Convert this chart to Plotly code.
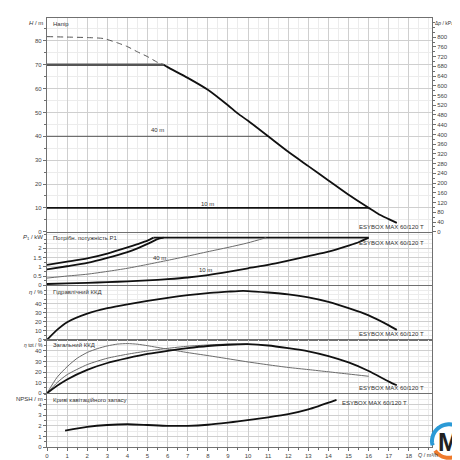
import plotly.graph_objects as go
import numpy as np

# ---------------- data ----------------
# Head panel (H / m)
q_dash = [0, 1, 2, 2.8, 3.5, 4, 4.5, 5, 5.5, 5.8]
h_dash = [81.8, 81.6, 81.4, 81.0, 79.2, 77.6, 75.4, 73.4, 71.0, 70.0]
q_70 = [0, 5.8]
h_70 = [70, 70]
q_main = [5.8, 6, 7, 8, 9, 9.5, 10, 11, 12, 13, 14, 15, 16, 16.5, 17, 17.4]
h_main = [70, 69, 64.5, 59.5, 53, 49.5, 46.5, 40, 33.5, 27.5, 21.5, 15.5, 10, 7.3, 5.3, 3.7]
q_40 = [0, 11]
h_40 = [40, 40]
q_10 = [0, 16]
h_10 = [10, 10]

# Power panel (P1 / kW)
q_p_max = [0, 1, 2, 3, 4, 4.5, 5, 5.3]
p_max = [1.11, 1.28, 1.46, 1.72, 2.05, 2.23, 2.42, 2.58]
q_p_70 = [0, 1, 2, 3, 4, 4.5, 5, 5.5, 5.8]
p_70 = [0.86, 1.03, 1.21, 1.48, 1.8, 2.0, 2.24, 2.5, 2.58]
q_p_flat = [5.3, 16]
p_flat = [2.58, 2.58]
q_p_40 = [0, 1, 2, 3, 4, 5, 6, 7, 8, 9, 10, 10.9]
p_40 = [0.39, 0.5, 0.6, 0.75, 0.92, 1.13, 1.35, 1.58, 1.82, 2.05, 2.3, 2.58]
q_p_10 = [0, 1, 2, 3, 4, 5, 6, 7, 8, 9, 10, 11, 12, 13, 14, 15, 15.5, 16]
p_10 = [0.07, 0.1, 0.13, 0.17, 0.21, 0.26, 0.33, 0.42, 0.55, 0.72, 0.92, 1.1, 1.33, 1.58, 1.82, 2.15, 2.33, 2.58]

# Hydraulic efficiency (eta / %)
q_eta = [0, 0.5, 1, 2, 3, 4, 5, 6, 7, 8, 9, 9.5, 10, 11, 12, 13, 14, 15, 16, 17, 17.4]
eta = [0, 11, 19.5, 29, 35, 39.3, 43, 46.5, 49.5, 51.8, 53.3, 54, 54, 52.4, 50.3, 47, 42, 35, 27, 16, 11]

# Total efficiency (eta tot / %)
q_et_a = [0, 0.5, 1, 1.5, 2, 2.5, 3, 3.5, 4, 4.5, 5, 6, 7, 8, 9, 9.5, 10, 11, 12, 13, 14, 15, 16]
et_a = [0, 15, 25, 33, 38.4, 42, 44.6, 46.3, 46.8, 46.2, 44.8, 41.5, 38.3, 35.5, 32.5, 31, 29.5, 26.8, 24.3, 22.3, 20.2, 18.1, 16]
q_et_b = [0, 0.5, 1, 2, 3, 4, 5, 6, 7, 8, 9, 10]
et_b = [0, 10, 17.5, 27, 33, 36.8, 39.8, 42.3, 44.3, 45.5, 46.3, 46.5]
q_et_c = [0, 0.5, 1, 2, 3, 4, 5, 6, 7, 8, 9, 10, 11, 12, 13, 14, 15, 16, 17, 17.4]
et_c = [0, 7, 13, 22, 28.5, 33, 37, 40, 42.5, 44.5, 45.7, 46.2, 45, 42.5, 39.5, 35, 29, 21, 11, 7.5]

# NPSH / m
q_npsh = [0.9, 2, 3, 4, 5, 6, 7, 8, 9, 9.5, 11, 12, 13, 14.4]
npsh = [1.55, 1.9, 2.08, 2.15, 2.08, 2.0, 2.0, 2.1, 2.3, 2.42, 2.8, 3.1, 3.55, 4.45]

x_ticks = list(range(0, 19))
h_ticks = [0, 10, 20, 30, 40, 50, 60, 70, 80]
kpa_ticks = list(range(0, 801, 40))
p_ticks = [0, 0.5, 1, 1.5, 2]
eta_ticks = [0, 10, 20, 30, 40]
npsh_ticks = [0, 1, 2, 3, 4]

model = "ESYBOX MAX 60/120 T"

# ---------------- figure ----------------
FONT = "Liberation Sans, Arial, sans-serif"
BLACK = "#111111"
GRAY = "#6a6a6a"

fig = go.Figure()

def line(x, y, ax, color=BLACK, width=1.8, dash="solid"):
    fig.add_trace(go.Scatter(x=x, y=y, mode="lines", xaxis=ax[0], yaxis=ax[1],
                             line=dict(color=color, width=width, dash=dash, shape="spline", smoothing=0.6),
                             hoverinfo="skip", showlegend=False))

a1 = ("x", "y")
a2 = ("x2", "y2")
a3 = ("x3", "y3")
a4 = ("x4", "y4")
a5 = ("x5", "y5")

line(q_dash, h_dash, a1, color="#555555", width=1, dash="6px,4px")
line(q_70, h_70, a1, color="#555555", width=2.6)
line(q_40, h_40, a1, color="#555555", width=1)
line(q_10, h_10, a1, color=BLACK, width=1.8)
line(q_main, h_main, a1, color=BLACK, width=1.8)

line(q_p_max, p_max, a2)
line(q_p_70, p_70, a2)
line(q_p_flat, p_flat, a2)
line(q_p_40, p_40, a2, color=GRAY, width=1)
line(q_p_10, p_10, a2)

line(q_eta, eta, a3)

line(q_et_a, et_a, a4, color=GRAY, width=1)
line(q_et_b, et_b, a4, color=GRAY, width=1)
line(q_et_c, et_c, a4)

line(q_npsh, npsh, a5)

# right kPa axis trace (invisible, sets axis)
fig.add_trace(go.Scatter(x=[0], y=[0], xaxis="x", yaxis="y6", mode="markers",
                         marker=dict(opacity=0), hoverinfo="skip", showlegend=False))

XR = [0, 19.15]
tickfont = dict(family=FONT, size=6, color="#444444")

def xax(anchor, show):
    d = dict(range=XR, anchor=anchor, domain=[0, 1], showgrid=True, gridcolor="#cfcfcf", gridwidth=1,
             tickvals=x_ticks, zeroline=False, showline=True, linecolor="#707070", linewidth=1, mirror=True,
             minor=dict(dtick=0.5, showgrid=True, gridcolor="#ececec", ticks=""),
             showticklabels=show, tickfont=tickfont, ticks="outside" if show else "", ticklen=3,
             tickcolor="#707070", fixedrange=True)
    if show:
        d["minor"] = dict(dtick=0.5, showgrid=True, gridcolor="#ececec", ticks="outside", ticklen=2,
                          tickcolor="#707070")
    return d

def yax(rng, dom, ticks, mdt, anchor):
    return dict(range=rng, domain=dom, anchor=anchor, showgrid=True, gridcolor="#cfcfcf",
                tickvals=ticks, zeroline=False, showline=True, linecolor="#707070", linewidth=1.2, mirror=True,
                ticks="outside", ticklen=3, tickcolor="#707070", tickfont=tickfont,
                minor=dict(dtick=mdt, showgrid=True, gridcolor="#ececec", ticks="outside", ticklen=2,
                           tickcolor="#707070"), fixedrange=True)

H_TOP = 89.6
y1 = yax([0, H_TOP], [0.5018, 1.0], h_ticks, 5, "x")
y2 = yax([0, 2.86], [0.377, 0.5], p_ticks, 0.25, "x2")
y3 = yax([0, 59.3], [0.2499, 0.3747], eta_ticks, 5, "x3")
y4 = yax([0, 50], [0.1253, 0.249], eta_ticks, 5, "x4")
y5 = yax([0, 5.0], [0.0, 0.1234], npsh_ticks, 0.5, "x5")

fig.update_layout(
    width=460, height=460,
    margin=dict(l=39, r=36, t=9, b=16),
    paper_bgcolor="white", plot_bgcolor="white",
    font=dict(family=FONT, size=6, color="#333333"),
    xaxis=xax("y", False), xaxis2=dict(xax("y2", False), matches="x"),
    xaxis3=dict(xax("y3", False), matches="x"), xaxis4=dict(xax("y4", False), matches="x"),
    xaxis5=dict(xax("y5", True), matches="x"),
    yaxis=y1, yaxis2=y2, yaxis3=y3, yaxis4=y4, yaxis5=y5,
    yaxis6=dict(range=[0, H_TOP * 9.80665], overlaying="y", side="right", anchor="x",
                tickvals=kpa_ticks, showgrid=False, zeroline=False, ticks="outside", ticklen=3,
                tickcolor="#707070", tickfont=tickfont, showline=False, fixedrange=True,
                minor=dict(dtick=20, ticks="outside", ticklen=2, tickcolor="#707070")),
)

def ppy(py):
    return (444 - py) / 435.0

def ppx(px):
    return (px - 39) / 385.0

ann = []
def txt(x, y, s, xanchor="left", size=6, xref="paper", yref="paper", color="#333333"):
    ann.append(dict(x=x, y=y, xref=xref, yref=yref, text=s, showarrow=False, xanchor=xanchor,
                    yanchor="middle", font=dict(family=FONT, size=size, color=color)))

# axis titles
txt(ppx(37), ppy(14), "<i>H</i> / m", "right")
txt(ppx(37), ppy(231.7), "<i>P</i><sub>1</sub> / kW", "right")
txt(ppx(37), ppy(286.7), "<i>η</i> / %", "right")
txt(ppx(37), ppy(340.5), "<i>η</i> tot / %", "right", size=5)
txt(ppx(37), ppy(395.7), "NPSH / m", "right")
txt(ppx(425), ppy(14), "Δ<i>p</i> / kPa", "left", size=5)
txt(ppx(408), ppy(452), "<i>Q</i> / m³/h", "left", size=5.5)

# panel captions
txt(ppx(43), ppy(15), "Напір")
txt(ppx(43), ppy(231.7), "Потрібн. потужність P1")
txt(ppx(43), ppy(286.7), "Гідравлічний ККД")
txt(ppx(43), ppy(341), "Загальний ККД")
txt(ppx(43), ppy(396), "Криві кавітаційного запасу")

# curve labels
txt(5.5, 42.5, "40 m", "center", xref="x", yref="y")
txt(8.0, 11.8, "10 m", "center", xref="x", yref="y")
txt(18.85, 1.9, model, "right", xref="x", yref="y")
txt(5.6, 1.47, "40 m", "center", xref="x2", yref="y2")
txt(7.9, 0.84, "10 m", "center", xref="x2", yref="y2")
txt(18.85, 2.3, model, "right", xref="x2", yref="y2")
txt(18.85, 6.9, model, "right", xref="x3", yref="y3")
txt(18.85, 4.8, model, "right", xref="x4", yref="y4")
txt(14.55, 4.2, model, "left", xref="x5", yref="y5")

# logo (decoration)
cx, cy, r = 441, 438, 17
def arc(a0, a1, n=40):
    ts = np.radians(np.linspace(a0, a1, n))
    pts = [(ppx(cx + r * np.cos(t)), ppy(cy - r * np.sin(t))) for t in ts]
    return "M " + " L ".join(f"{x:.4f},{y:.4f}" for x, y in pts)

shapes = [
    dict(type="path", xref="paper", yref="paper", path=arc(195, -5), line=dict(color="#2b9ad6", width=4)),
    dict(type="path", xref="paper", yref="paper", path=arc(215, 330), line=dict(color="#ef7a2c", width=4)),
]
txt(ppx(cx), ppy(cy + 1), "<b>M</b>", "center", size=25, color="#222222")

fig.update_layout(annotations=ann, shapes=shapes)

fig.write_html("out.html")
